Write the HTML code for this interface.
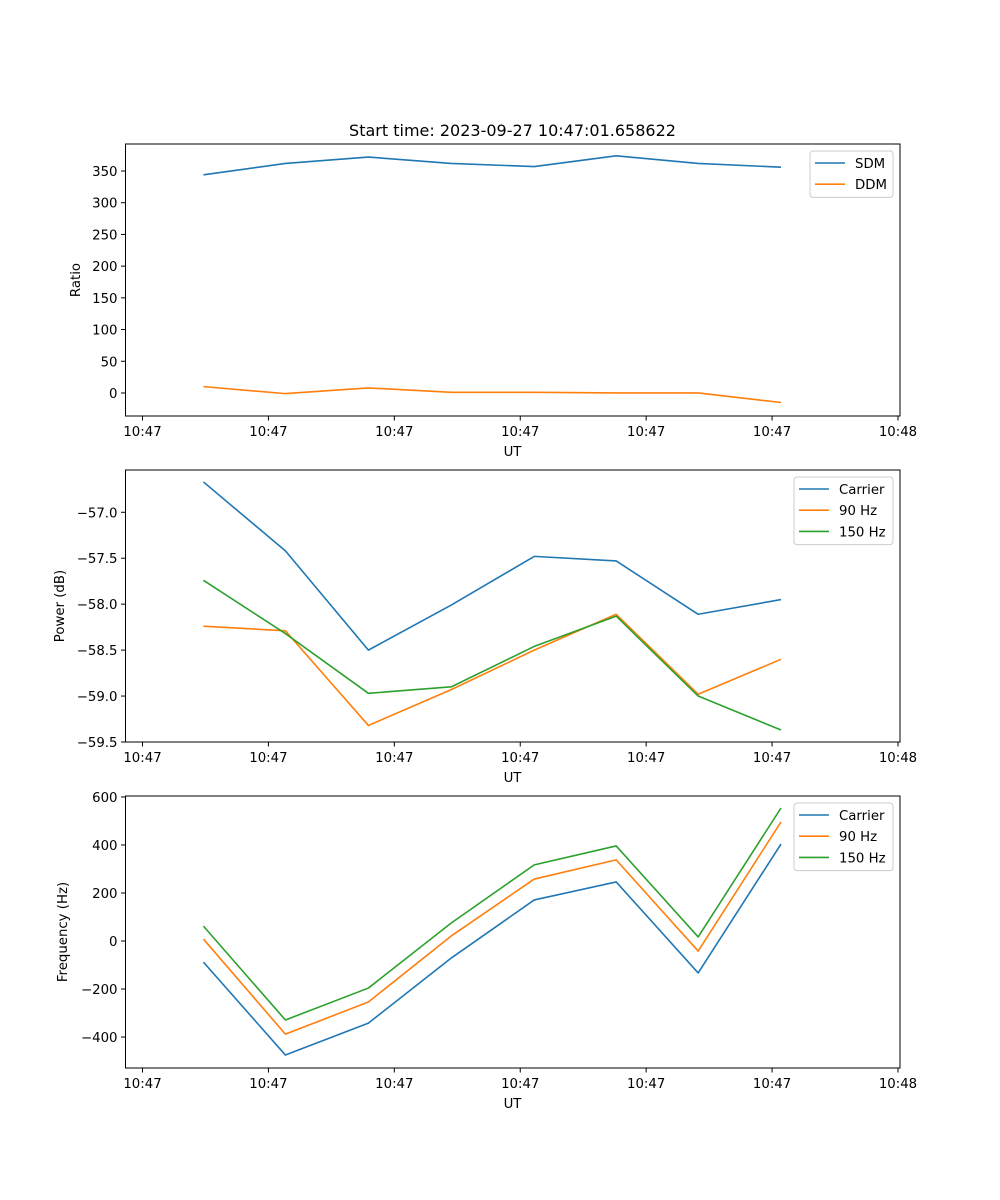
<!DOCTYPE html>
<html><head><meta charset="utf-8">
<style>
html,body{margin:0;padding:0;background:#fff;}
svg{display:block;font-family:"DejaVu Sans","Liberation Sans",sans-serif;}
</style></head>
<body>
<svg id="fig" width="1000" height="1200" viewBox="0 0 1000 1200" xmlns="http://www.w3.org/2000/svg">
<rect width="1000" height="1200" fill="#fff"/>
<text x="512.5" y="136" text-anchor="middle" font-size="16" fill="#000">Start time: 2023-09-27 10:47:01.658622</text>
</svg>
<script>
// Shared time axis (seconds after 10:47:00)
const times = [4.84, 11.35, 17.94, 24.52, 31.11, 37.62, 44.13, 50.71];
const xTickValues = [0, 10, 20, 30, 40, 50, 60];
const xTickLabels = ["10:47","10:47","10:47","10:47","10:47","10:47","10:48"];

// Panel 1: Ratio
const sdm = [344, 362, 372, 362, 357, 374, 362, 356];
const ddm = [10, -1, 8, 1, 1, 0, 0, -15];
const ratioTicks = [0, 50, 100, 150, 200, 250, 300, 350];

// Panel 2: Power (dB)
const powerCarrier = [-56.67, -57.42, -58.50, -58.01, -57.48, -57.53, -58.11, -57.95];
const power90 = [-58.24, -58.29, -59.32, -58.93, -58.50, -58.11, -58.98, -58.60];
const power150 = [-57.74, -58.32, -58.97, -58.90, -58.46, -58.13, -59.00, -59.37];
const powerTicks = [-59.5, -59.0, -58.5, -58.0, -57.5, -57.0];
const powerTickLabels = ["\u221259.5","\u221259.0","\u221258.5","\u221258.0","\u221257.5","\u221257.0"];

// Panel 3: Frequency (Hz)
const freqCarrier = [-88, -475, -342, -71, 171, 246, -133, 404];
const freq90 = [8, -388, -254, 21, 258, 338, -42, 496];
const freq150 = [62, -329, -196, 75, 317, 396, 17, 554];
const freqTicks = [-400, -200, 0, 200, 400, 600];
const freqTickLabels = ["\u2212400","\u2212200","0","200","400","600"];

const NS = "http://www.w3.org/2000/svg";
const svg = document.getElementById("fig");
const C = {blue:"#1f77b4", orange:"#ff7f0e", green:"#2ca02c"};
const L = 125.5, R = 900, xMin = -1.35, xMax = 60.16;
function xs(v){ return L + (v - xMin) / (xMax - xMin) * (R - L); }

function mk(tag, attrs){
  const e = document.createElementNS(NS, tag);
  for (const k in attrs) e.setAttribute(k, attrs[k]);
  return e;
}

function panel(cfg){
  const g = mk("g", {});
  
  
  svg.appendChild(g);
  const T = cfg.top, B = cfg.top + 272;
  const ys = v => B - (v - cfg.yMin) / (cfg.yMax - cfg.yMin) * (B - T);
  cfg.series.forEach(s => {
    const pts = s.values.map((v,i) => xs(times[i]).toFixed(2) + "," + ys(v).toFixed(2)).join(" ");
    const pl = mk("polyline", {points: pts, fill: "none", stroke: s.color, "stroke-width": 1.6, "stroke-linejoin": "round"});
    
    
    g.appendChild(pl);
  });
  const fr = mk("rect", {x: L, y: T, width: R - L, height: B - T, fill: "none", stroke: "#000", "stroke-width": 1});
  
  
  g.appendChild(fr);
  xTickValues.forEach((v,i) => {
    const x = xs(v);
    g.appendChild(mk("line", {x1: x, x2: x, y1: B, y2: B + 4.5, stroke: "#000", "stroke-width": 1}));
    const t = mk("text", {x: x, y: B + 20, "text-anchor": "middle", "font-size": 13.3});
    t.textContent = xTickLabels[i];
    
    
    g.appendChild(t);
  });
  const xl = mk("text", {x: 512.5, y: B + 40, "text-anchor": "middle", "font-size": 13.3});
  xl.textContent = "UT";
  
  
  g.appendChild(xl);
  cfg.yTicks.forEach((v,i) => {
    const y = ys(v);
    g.appendChild(mk("line", {x1: L - 4.5, x2: L, y1: y, y2: y, stroke: "#000", "stroke-width": 1}));
    const t = mk("text", {x: L - 8, y: y + 5, "text-anchor": "end", "font-size": 13.3});
    t.textContent = cfg.yLabels[i];
    
    
    g.appendChild(t);
  });
  const yl = mk("text", {x: cfg.yTitleX, y: (T + B) / 2, "text-anchor": "middle", "font-size": 13.3, transform: "rotate(-90 " + cfg.yTitleX + " " + (T + B) / 2 + ")"});
  yl.textContent = cfg.yTitle;
  
  
  g.appendChild(yl);
  const n = cfg.series.length;
  const lx = cfg.legendX, ly = T + 7, lw = 893 - lx, lh = 4 + n * 21.2;
  const lg = mk("g", {});
  
  
  g.appendChild(lg);
  lg.appendChild(mk("rect", {x: lx, y: ly, width: lw, height: lh, rx: 3, fill: "#fff", "fill-opacity": 0.8, stroke: "#ccc", "stroke-width": 1}));
  cfg.series.forEach((s,i) => {
    const yy = ly + 12 + i * 21.2;
    const e = mk("g", {});
    
    
    e.appendChild(mk("line", {x1: lx + 5, x2: lx + 35, y1: yy, y2: yy, stroke: s.color, "stroke-width": 1.6}));
    const t = mk("text", {x: lx + 45, y: yy + 5, "font-size": 13.3});
    t.textContent = s.label;
    e.appendChild(t);
    lg.appendChild(e);
  });
}

panel({name: "ratio-panel", top: 144, yMin: -36.3, yMax: 392.6, yTicks: ratioTicks, yLabels: ratioTicks.map(String), yTitle: "Ratio", yTitleX: 80, legendX: 810,
  series: [{id: "sdm", label: "SDM", values: sdm, color: C.blue}, {id: "ddm", label: "DDM", values: ddm, color: C.orange}]});
panel({name: "power-panel", top: 470, yMin: -59.5, yMax: -56.54, yTicks: powerTicks, yLabels: powerTickLabels, yTitle: "Power (dB)", yTitleX: 64, legendX: 794,
  series: [{id: "carrier", label: "Carrier", values: powerCarrier, color: C.blue}, {id: "90hz", label: "90 Hz", values: power90, color: C.orange}, {id: "150hz", label: "150 Hz", values: power150, color: C.green}]});
panel({name: "frequency-panel", top: 796, yMin: -529, yMax: 604, yTicks: freqTicks, yLabels: freqTickLabels, yTitle: "Frequency (Hz)", yTitleX: 67, legendX: 794,
  series: [{id: "carrier", label: "Carrier", values: freqCarrier, color: C.blue}, {id: "90hz", label: "90 Hz", values: freq90, color: C.orange}, {id: "150hz", label: "150 Hz", values: freq150, color: C.green}]});
</script>
</body></html>
